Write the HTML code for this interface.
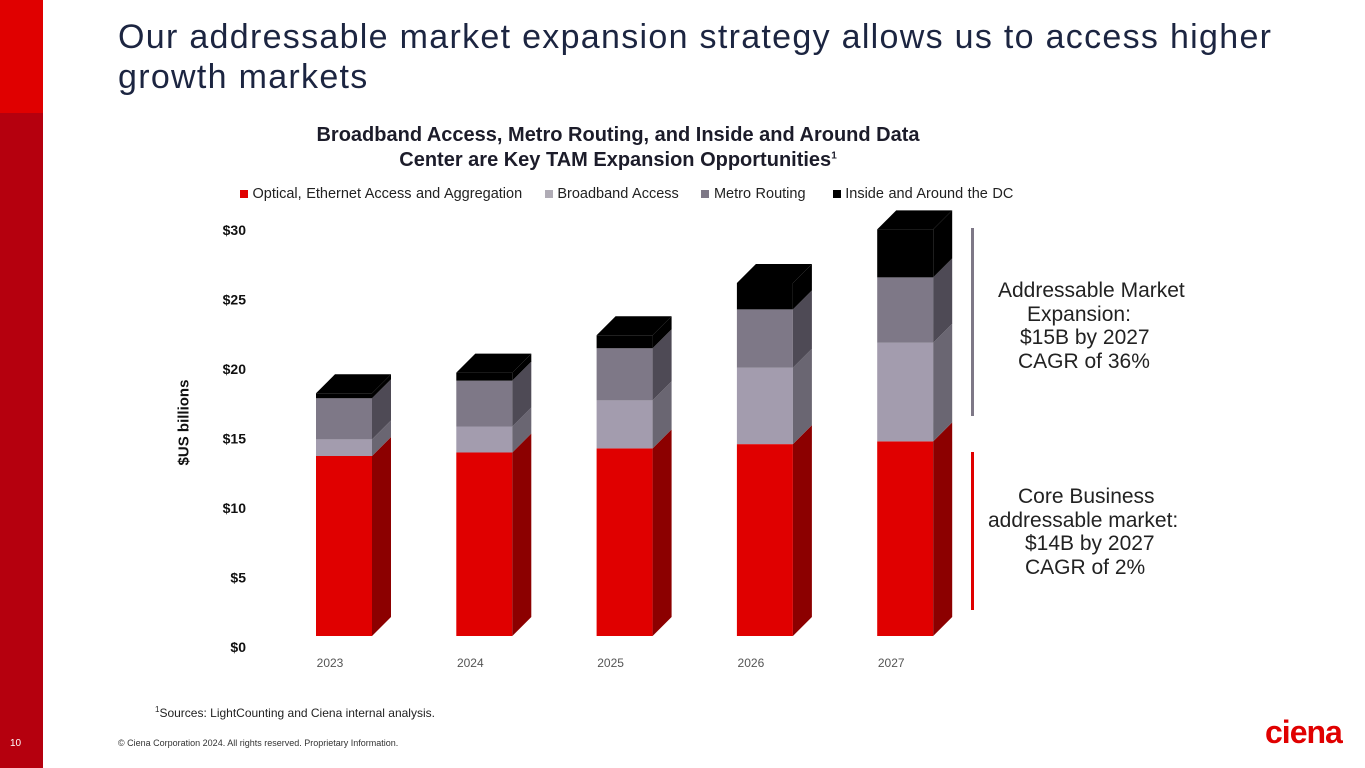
<!DOCTYPE html>
<html><head><meta charset="utf-8"><style>
body{margin:0;width:1365px;height:768px;overflow:hidden;background:#fff;font-family:"Liberation Sans",sans-serif;position:relative}
.abs{position:absolute}
.n{font-family:"Liberation Sans Narrow","Liberation Sans",sans-serif}
</style></head><body>
<div class="abs" style="left:0;top:0;width:43px;height:113px;background:#e00000"></div>
<div class="abs" style="left:0;top:113px;width:43px;height:655px;background:#b5000e"></div>
<div class="abs" style="left:10px;top:738px;font-size:10px;color:#fff">10</div>
<div class="abs" style="left:118px;top:17px;font-size:34px;line-height:40px;color:#1c2541;letter-spacing:1.3px;white-space:nowrap">Our addressable market expansion strategy allows us to access higher<br>growth markets</div>
<div class="abs n" style="left:200px;top:123px;width:836px;text-align:center;font-weight:bold;font-size:20px;line-height:25px;color:#1c1c2a">Broadband Access, Metro Routing, and Inside and Around Data<br>Center are Key TAM Expansion Opportunities<sup style="font-size:10px;line-height:0">1</sup></div>
<div class="abs n" style="left:240px;top:186px;font-size:14.5px;color:#222;white-space:nowrap;word-spacing:0.5px">
<span><span style="display:inline-block;width:8px;height:8px;background:#e00000"></span> Optical, Ethernet Access and Aggregation</span>&nbsp;&nbsp;&nbsp;&nbsp;
<span><span style="display:inline-block;width:8px;height:8px;background:#b0acb6"></span> Broadband Access</span>&nbsp;&nbsp;&nbsp;&nbsp;
<span><span style="display:inline-block;width:8px;height:8px;background:#7e7887"></span> Metro Routing</span>&nbsp;&nbsp;&nbsp;&nbsp;&nbsp;
<span><span style="display:inline-block;width:8px;height:8px;background:#000"></span> Inside and Around the DC</span></div>
<svg class="abs" style="left:0;top:0" width="1365" height="768" id="chart"></svg>
<div class="abs" style="left:124px;top:414px;width:120px;text-align:center;transform:rotate(-90deg);font-weight:bold;font-size:15px;color:#111">$US billions</div>
<div class="abs" style="left:985px;top:279px;width:230px;font-size:21px;line-height:23.5px;color:#222"><div style="padding-left:13px">Addressable Market</div><div style="padding-left:42px">Expansion:</div><div style="padding-left:35px">$15B by 2027</div><div style="padding-left:33px">CAGR of 36%</div></div>
<div class="abs" style="left:985px;top:485px;width:230px;font-size:21px;line-height:23.5px;color:#222"><div style="padding-left:33px">Core Business</div><div style="padding-left:3px">addressable market:</div><div style="padding-left:40px">$14B by 2027</div><div style="padding-left:40px">CAGR of 2%</div></div>
<div class="abs" style="left:971px;top:228px;width:3px;height:188px;background:#7e7887"></div>
<div class="abs" style="left:971px;top:452px;width:3px;height:158px;background:#e00000"></div>
<div class="abs" style="left:155px;top:705px;font-size:12px;color:#222"><sup style="font-size:8px">1</sup>Sources: LightCounting and Ciena internal analysis.</div>
<div class="abs" style="left:118px;top:738px;font-size:9px;color:#333">© Ciena Corporation 2024. All rights reserved. Proprietary Information.</div>
<div class="abs" style="left:1265px;top:714px;font-size:32px;font-weight:bold;color:#e00000;letter-spacing:-1px">ciena</div>
<script>
const years=["2023","2024","2025","2026","2027"];
const optical=[12.95,13.2,13.5,13.8,14.0];
const broadband=[1.2,1.87,3.45,5.5,7.1];
const metro=[2.95,3.3,3.75,4.2,4.7];
const dc=[0.36,0.58,0.94,1.9,3.45];
const yTicks=[0,5,10,15,20,25,30];
const svg=document.getElementById('chart');
const NS='http://www.w3.org/2000/svg';
const base=636,unit=13.9,x0=316,step=140.3,bw=56,dx=19,dy=19;
const y=v=>base-v*unit;
function poly(pts,fill,name){const p=document.createElementNS(NS,'polygon');p.setAttribute('points',pts.map(a=>a.join(',')).join(' '));p.setAttribute('fill',fill);


svg.appendChild(p);}
function txt(x,yy,s,attrs,name){const t=document.createElementNS(NS,'text');t.setAttribute('x',x);t.setAttribute('y',yy);for(const k in attrs)t.setAttribute(k,attrs[k]);t.textContent=s;


svg.appendChild(t);}
yTicks.forEach(v=>txt(246,y(v)+16,'$'+v,{'text-anchor':'end','font-family':'Liberation Sans, sans-serif','font-weight':'bold','font-size':'14','fill':'#111'},'y-tick-'+v));
const series=[[optical,'#e00000','#8c0000','optical'],[broadband,'#a39cae','#6a6672','broadband'],[metro,'#7e7887','#4e4a55','metro'],[dc,'#000','#000','dc']];
years.forEach((yr,i)=>{const xl=x0+i*step,xr=xl+bw;let cum=0;
series.forEach(([arr,f,s,n],k)=>{const v=arr[i];const yb=y(cum),yt=y(cum+v);
poly([[xl,yb],[xr,yb],[xr,yt],[xl,yt]],f,'bar-'+n+'-'+yr);
poly([[xr,yb],[xr+dx,yb-dy],[xr+dx,yt-dy],[xr,yt]],s,'bar-side-'+n+'-'+yr);
cum+=v;});
const yt=y(cum);poly([[xl,yt],[xr,yt],[xr+dx,yt-dy],[xl+dx,yt-dy]],'#000','bar-top-'+yr);
txt(xl+14,667,yr,{'text-anchor':'middle','font-family':'Liberation Sans, sans-serif','font-size':'12','fill':'#555'},'x-label-'+yr);});
</script>
</body></html>
